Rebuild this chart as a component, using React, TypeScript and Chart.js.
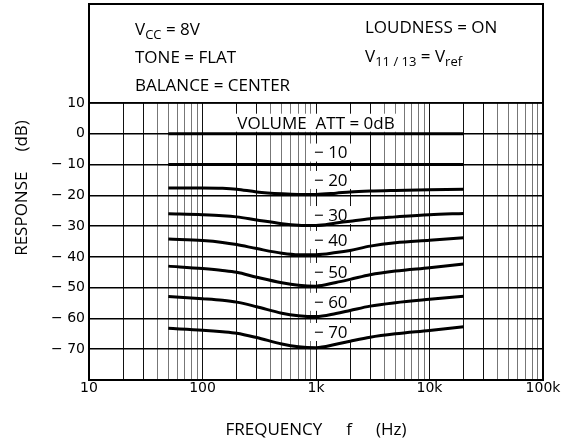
import { useEffect, useRef } from 'react';
import { Chart, registerables } from 'chart.js';

Chart.register(...registerables);

// ---- data ----
const freqs = [50, 100, 150, 200, 300, 500, 700, 1000, 1500, 2000, 3000, 5000, 10000, 20000];
const att0 = [0, 0, 0, 0, 0, 0, 0, 0, 0, 0, 0, 0, 0, 0];
const att10 = [-10, -10, -10, -10, -10, -10, -10, -10, -10, -10, -10, -10, -10, -10];
const att20 = [-17.6, -17.6, -17.7, -18.0, -18.9, -19.5, -19.7, -19.7, -19.3, -18.9, -18.6, -18.4, -18.2, -18.0];
const att30 = [-26.0, -26.3, -26.6, -27.0, -28.0, -29.2, -29.7, -29.8, -29.0, -28.4, -27.6, -27.0, -26.3, -25.9];
const att40 = [-34.2, -34.7, -35.3, -36.0, -37.3, -38.8, -39.3, -39.3, -38.6, -37.9, -36.5, -35.4, -34.6, -33.8];
const att50 = [-43.0, -43.8, -44.4, -45.0, -46.6, -48.4, -49.2, -49.5, -48.3, -47.3, -45.8, -44.6, -43.5, -42.3];
const att60 = [-52.9, -53.6, -54.1, -54.7, -56.2, -58.3, -59.1, -59.4, -58.4, -57.4, -56.0, -54.9, -53.8, -52.8];
const att70 = [-63.2, -63.8, -64.3, -64.8, -66.2, -68.3, -69.2, -69.5, -68.4, -67.4, -66.1, -65.0, -63.9, -62.7];
const series = [att0, att10, att20, att30, att40, att50, att60, att70];

const xTickValues = [10, 100, 1000, 10000, 100000];
const xTickLabels = ['10', '100', '1k', '10k', '100k'];
const yTickValues = [10, 0, -10, -20, -30, -40, -50, -60, -70];
const yTickLabels = ['10', '0', '\u2212 10', '\u2212 20', '\u2212 30', '\u2212 40', '\u2212 50', '\u2212 60', '\u2212 70'];

const curveLabels = ['VOLUME  ATT = 0dB', '\u2212 10', '\u2212 20', '\u2212 30', '\u2212 40', '\u2212 50', '\u2212 60', '\u2212 70'];
// annotation anchor (frequency, dB) for each curve label
const curveLabelFreq = [1000, 1350, 1350, 1350, 1350, 1350, 1350, 1350];
const curveLabelDb = [3.6, -6.1, -15.0, -26.4, -34.5, -44.9, -54.6, -64.4];

const FONT = '"Open Sans", "DejaVu Sans", sans-serif';
const TICK_FONT = '"DejaVu Sans", sans-serif';

function drawSub(ctx: CanvasRenderingContext2D, parts: [string, boolean][], x: number, y: number) {
  let cx = x;
  for (const [t, sub] of parts) {
    ctx.font = sub ? `500 13px ${FONT}` : `500 17px ${FONT}`;
    ctx.fillText(t, cx, sub ? y + 4 : y);
    cx += ctx.measureText(t).width;
  }
}

const decor = {
  id: 'decor',
  beforeDraw(chart: any) {
    const ctx = chart.ctx;
    ctx.save();
    ctx.fillStyle = '#fff';
    ctx.fillRect(0, 0, chart.width, chart.height);
    ctx.restore();
  },
  beforeDatasetsDraw(chart: any) {
    const ctx = chart.ctx;
    const xs = chart.scales.x;
    const ys = chart.scales.y;
    ctx.save();
    ctx.font = `500 17px ${FONT}`;
    ctx.textAlign = 'center';
    ctx.textBaseline = 'middle';
    curveLabels.forEach((t, i) => {
      const x = xs.getPixelForValue(curveLabelFreq[i]);
      const y = ys.getPixelForValue(curveLabelDb[i]);
      const w = ctx.measureText(t).width;
      ctx.fillStyle = '#fff';
      ctx.fillRect(x - w / 2 - 4, y - 9, w + 8, 18);
      ctx.fillStyle = '#000';
      ctx.fillText(t, x, y + 1);
    });
    ctx.restore();
  },
  afterDraw(chart: any) {
    const ctx = chart.ctx;
    const a = chart.chartArea;
    ctx.save();
    // frame
    ctx.strokeStyle = '#000';
    ctx.lineWidth = 2;
    ctx.strokeRect(a.left, 4, a.right - a.left, a.bottom - 4);
    ctx.lineWidth = 1.5;
    ctx.beginPath();
    ctx.moveTo(a.left, a.top);
    ctx.lineTo(a.right, a.top);
    ctx.stroke();
    // condition text
    ctx.fillStyle = '#000';
    ctx.textAlign = 'left';
    ctx.textBaseline = 'alphabetic';
    drawSub(ctx, [['V', false], ['CC', true], [' = 8V', false]], 135, 35);
    drawSub(ctx, [['TONE = FLAT', false]], 135, 63);
    drawSub(ctx, [['BALANCE = CENTER', false]], 135, 91);
    drawSub(ctx, [['LOUDNESS = ON', false]], 365, 33);
    drawSub(ctx, [['V', false], ['11 / 13', true], [' = V', false], ['ref', true]], 365, 62);
    // axis titles
    ctx.font = `500 17px ${FONT}`;
    ctx.textBaseline = 'middle';
    ctx.textAlign = 'center';
    const cx = (a.left + a.right) / 2;
    const parts = ['FREQUENCY', 'f', '(Hz)'];
    const gap = 24;
    const widths = parts.map((p) => ctx.measureText(p).width);
    const total = widths.reduce((s, w) => s + w, 0) + gap * 2;
    let px = cx - total / 2;
    parts.forEach((p, i) => {
      ctx.fillText(p, px + widths[i] / 2, 430);
      px += widths[i] + gap;
    });
    ctx.translate(22, 188);
    ctx.rotate(-Math.PI / 2);
    const yparts = ['RESPONSE', '(dB)'];
    const yw = yparts.map((p) => ctx.measureText(p).width);
    const ytot = yw[0] + yw[1] + 20;
    let py = -ytot / 2;
    yparts.forEach((p, i) => {
      ctx.fillText(p, py + yw[i] / 2, 0);
      py += yw[i] + 20;
    });
    ctx.restore();
  },
};

export default function App() {
  const ref = useRef<HTMLCanvasElement | null>(null);
  useEffect(() => {
    const canvas = ref.current;
    if (!canvas) return;
    const chart = new Chart(canvas, {
      type: 'line',
      data: {
        datasets: series.map((s, i) => ({
          label: curveLabels[i],
          data: freqs.map((f, j) => ({ x: f, y: s[j] })),
          borderColor: '#000',
          borderWidth: 3,
          pointRadius: 0,
          fill: false,
          cubicInterpolationMode: 'monotone' as const,
        })),
      },
      options: {
        animation: false,
        responsive: false,
        devicePixelRatio: 1,
        layout: { padding: { top: 103, right: 27, left: 0, bottom: 0 } },
        plugins: { legend: { display: false }, tooltip: { enabled: false }, title: { display: false } },
        scales: {
          x: {
            type: 'logarithmic',
            min: 10,
            max: 100000,
            afterBuildTicks(scale: any) {
              const t: { value: number }[] = [];
              for (let d = 10; d <= 100000; d *= 10) {
                for (let m = 1; m <= 9; m++) {
                  const v = d * m;
                  if (v <= 100000) t.push({ value: v });
                }
              }
              scale.ticks = t;
            },
            afterFit(scale: any) {
              scale.height = 64;
            },
            ticks: {
              autoSkip: false,
              maxRotation: 0,
              padding: 0,
              color: '#000',
              font: { family: TICK_FONT, size: 14 },
              callback(v: any) {
                const i = xTickValues.indexOf(Number(v));
                return i >= 0 ? xTickLabels[i] : '';
              },
            },
            grid: {
              color(c: any) {
                const v = c.tick ? c.tick.value : 10;
                const m = Math.round(v / Math.pow(10, Math.floor(Math.log10(v) + 1e-9)));
                return m <= 3 ? '#111' : '#777';
              },
              lineWidth: 1,
              drawTicks: false,
            },
            border: { display: false },
          },
          y: {
            type: 'linear',
            min: -80,
            max: 10,
            afterBuildTicks(scale: any) {
              const t: { value: number }[] = [];
              for (let v = -80; v <= 10; v += 10) t.push({ value: v });
              scale.ticks = t;
            },
            afterFit(scale: any) {
              scale.width = 89;
            },
            ticks: {
              padding: 4,
              color: '#000',
              font: { family: TICK_FONT, size: 14 },
              callback(v: any) {
                const i = yTickValues.indexOf(Number(v));
                return i >= 0 ? yTickLabels[i] : '';
              },
            },
            grid: { color: '#000', lineWidth: 1.5, drawTicks: false },
            border: { display: false },
          },
        },
      },
      plugins: [decor],
    } as any);
    return () => chart.destroy();
  }, []);
  return (
    <div style={{ position: 'fixed', left: 0, top: 0, width: 570, height: 444, background: '#fff' }}>
      <canvas ref={ref} width={570} height={444} style={{ width: 570, height: 444, display: 'block' }} />
    </div>
  );
}
